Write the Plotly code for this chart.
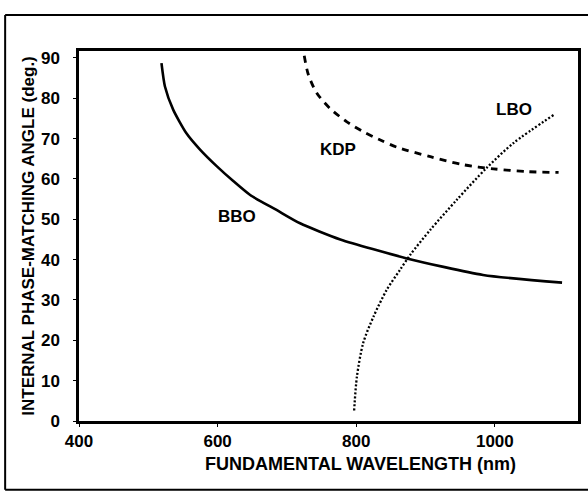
import plotly.graph_objects as go

# Data (wavelength nm, internal phase-matching angle deg)
bbo_wl = [519, 524, 536, 555, 575, 599, 623, 647, 685, 719, 777, 873, 983, 1097]
bbo_ang = [88.7, 82.9, 77.1, 71.3, 67.2, 63.1, 59.4, 56.0, 52.3, 49.0, 45.0, 40.3, 36.2, 34.3]

kdp_wl = [725, 731, 743, 762, 786, 810, 834, 858, 907, 955, 998, 1046, 1092]
kdp_ang = [90.5, 85.8, 81.3, 77.5, 74.2, 71.7, 69.7, 67.9, 65.5, 63.5, 62.5, 61.8, 61.6]

lbo_wl = [797, 801, 810, 825, 844, 863, 878, 907, 945, 988, 1027, 1087]
lbo_ang = [2.6, 11.0, 19.3, 25.9, 32.5, 37.4, 41.2, 47.4, 54.8, 62.7, 68.9, 76.1]

labels = ["BBO", "KDP", "LBO"]
label_x = [628, 774, 1028]
label_y = [50.8, 67.2, 77.1]

x_ticks = [400, 600, 800, 1000]
y_ticks = [0, 10, 20, 30, 40, 50, 60, 70, 80, 90]

x_title = "FUNDAMENTAL WAVELENGTH (nm)"
y_title = "INTERNAL PHASE-MATCHING ANGLE (deg.)"

FONT = "Liberation Sans, Arial, Helvetica, sans-serif"

fig = go.Figure()
fig.add_trace(go.Scatter(x=bbo_wl, y=bbo_ang, mode="lines", line=dict(color="black", width=2.6, shape="spline", smoothing=0.6), showlegend=False))
fig.add_trace(go.Scatter(x=kdp_wl, y=kdp_ang, mode="lines", line=dict(color="black", width=2.8, dash="7px,6px", shape="spline", smoothing=0.8), showlegend=False))
fig.add_trace(go.Scatter(x=lbo_wl, y=lbo_ang, mode="lines", line=dict(color="black", width=2.3, dash="2px,2px", shape="spline", smoothing=0.8), showlegend=False))

for t, x, y in zip(labels, label_x, label_y):
    fig.add_annotation(x=x, y=y, text=t, showarrow=False,
                       font=dict(family=FONT, size=17, color="black", weight="bold"))

# x-axis title (placed slightly right of centre as in the reference)
fig.add_annotation(xref="paper", yref="paper", x=0.565, y=-0.115, text=x_title, showarrow=False,
                   xanchor="center", yanchor="middle",
                   font=dict(family=FONT, size=18, color="black", weight="bold"))

# outer frame of the scanned figure
for x0, y0, x1, y1 in [(-0.148, 1.097, 1.03, 1.097), (-0.148, 1.097, -0.148, -0.186), (-0.148, -0.186, 1.03, -0.186)]:
    fig.add_shape(type="line", xref="paper", yref="paper", x0=x0, y0=y0, x1=x1, y1=y1,
                  line=dict(color="black", width=2))

fig.update_layout(
    width=588, height=496,
    margin=dict(l=79, r=10, t=51, b=75),
    paper_bgcolor="white", plot_bgcolor="white",
    font=dict(family=FONT, color="black"),
    xaxis=dict(range=[400, 1120], tickvals=x_ticks, showgrid=False, zeroline=False,
               showline=True, linecolor="black", linewidth=2.5, mirror=True,
               ticks="outside", ticklen=3, tickcolor="black", automargin=False,
               tickfont=dict(size=17, weight="bold")),
    yaxis=dict(range=[0, 91.7], tickvals=y_ticks, showgrid=False, zeroline=False,
               showline=True, linecolor="black", linewidth=2.5, mirror=True,
               ticks="outside", ticklen=3, tickcolor="black", automargin=False,
               ticklabelstandoff=10,
               tickfont=dict(size=17, weight="bold"),
               title=dict(text=y_title, font=dict(size=17, weight="bold"), standoff=2)),
)

fig.write_html("out.html", config={"displayModeBar": False})

# remove the default page margin so the figure sits at the window origin
with open("out.html", encoding="utf-8") as f:
    html = f.read()
html = html.replace("<body>", '<body style="margin:0;padding:0;overflow:hidden">', 1)
with open("out.html", "w", encoding="utf-8") as f:
    f.write(html)
